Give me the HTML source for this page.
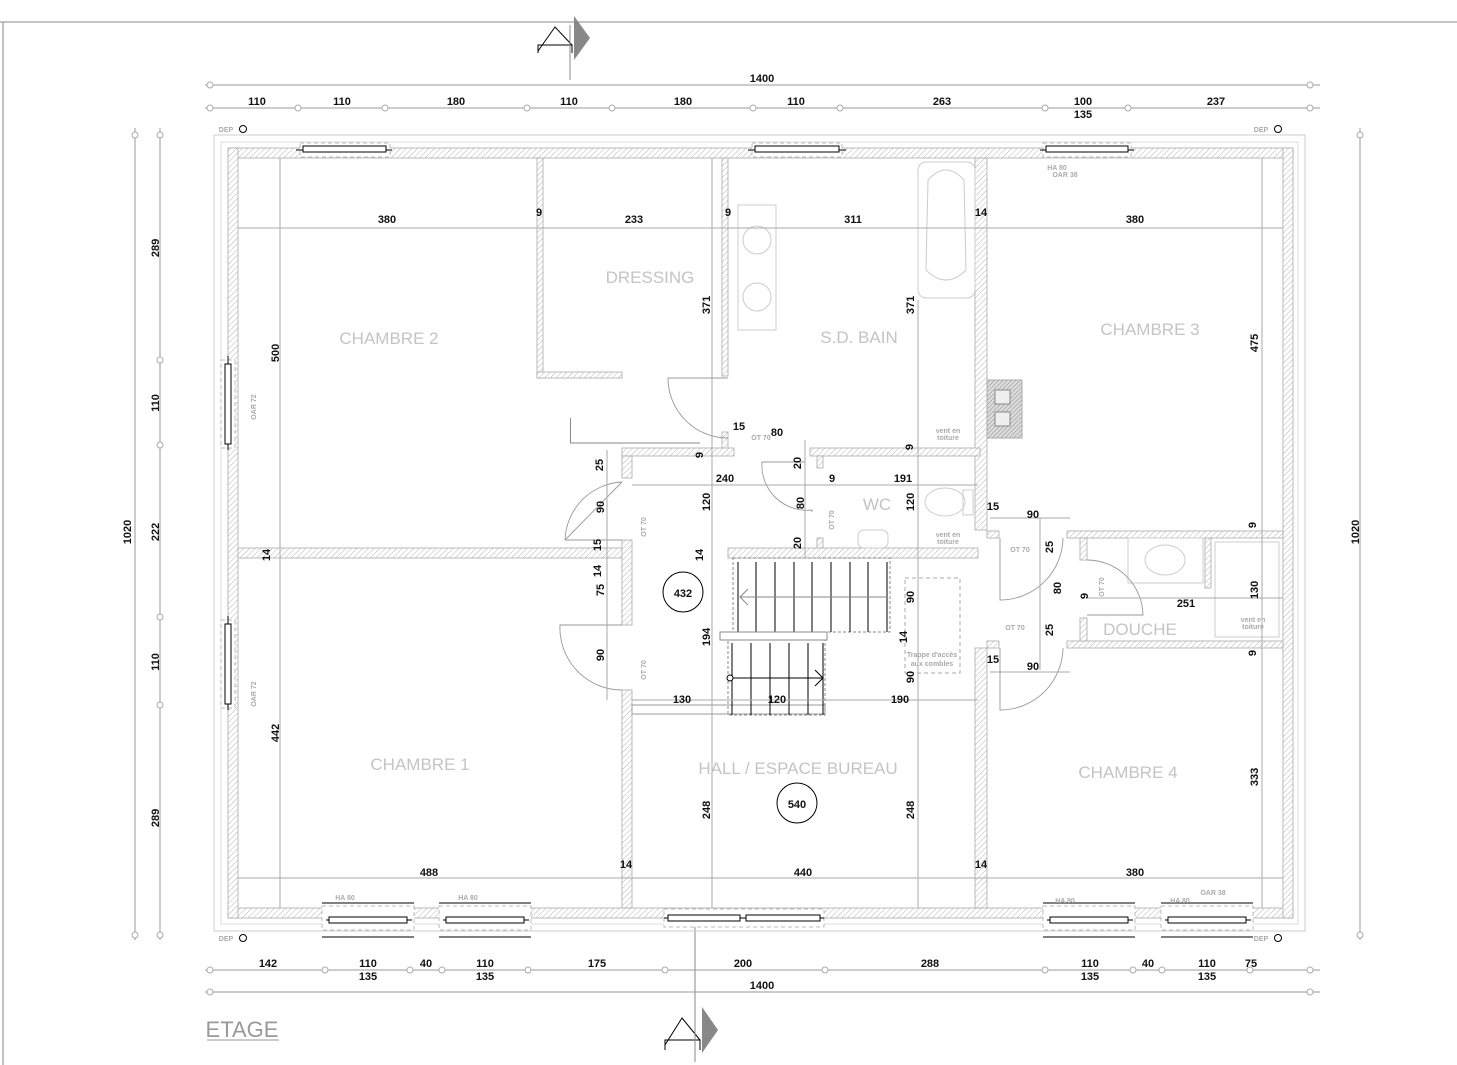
<!DOCTYPE html>
<html><head><meta charset="utf-8"><style>
html,body{margin:0;padding:0;background:#fff;}
svg{display:block;}
.d{font-family:"Liberation Sans",sans-serif;font-size:11px;font-weight:bold;fill:#111;text-anchor:middle;}
.r{font-family:"Liberation Sans",sans-serif;font-size:17px;fill:#c4c4c4;text-anchor:middle;}
.s{font-family:"Liberation Sans",sans-serif;font-size:7px;font-weight:bold;fill:#aaa;text-anchor:middle;}
.w{fill:url(#h);stroke:#aaa;stroke-width:0.8;}
.dl{stroke:#aaa;stroke-width:1;fill:none;}
.g{stroke:#999;stroke-width:0.9;fill:none;}
</style></head><body>
<svg width="1457" height="1065" viewBox="0 0 1457 1065" xmlns="http://www.w3.org/2000/svg">
<defs>
<pattern id="h" width="4" height="4" patternUnits="userSpaceOnUse" patternTransform="rotate(45)">
<rect width="4" height="4" fill="#fff"/><line x1="0" y1="0" x2="0" y2="4" stroke="#b5b5b5" stroke-width="1"/></pattern>
<pattern id="hd" width="3" height="3" patternUnits="userSpaceOnUse" patternTransform="rotate(45)">
<rect width="3" height="3" fill="#ddd"/><line x1="0" y1="0" x2="0" y2="3" stroke="#888" stroke-width="1"/></pattern>
</defs>
<!-- frame -->
<line x1="0" y1="22" x2="1457" y2="22" stroke="#888"/>
<line x1="3" y1="22" x2="3" y2="1065" stroke="#888"/>

<!-- section markers -->
<polyline points="538,51 555,27 572,45" fill="none" stroke="#000"/>
<polyline points="538,53 538,45 572,45 572,53" fill="none" stroke="#000"/>
<line x1="570" y1="25" x2="570" y2="80" stroke="#888"/>
<polygon points="574,16 590,38 574,60" fill="#888"/>
<polyline points="665,1045 682,1018 700,1040" fill="none" stroke="#000"/>
<polyline points="665,1050 665,1040 700,1040 700,1050" fill="none" stroke="#000"/>
<line x1="695" y1="925" x2="695" y2="1062" stroke="#888"/>
<polygon points="702,1007 718,1030 702,1053" fill="#888"/>

<!-- outer light lines -->
<rect x="214" y="135" width="1091" height="796" fill="none" stroke="#ccc"/>
<rect x="221" y="142" width="1077" height="782" fill="none" stroke="#ddd"/>

<!-- exterior walls -->
<rect class="w" x="228" y="148" width="1065" height="10"/>
<rect class="w" x="228" y="908" width="1065" height="10"/>
<rect class="w" x="228" y="148" width="10" height="770"/>
<rect class="w" x="1283" y="148" width="10" height="770"/>
<!-- interior walls -->
<rect class="w" x="537" y="158" width="6" height="220"/>
<rect class="w" x="537" y="372" width="85" height="6"/>
<rect class="w" x="722" y="158" width="6" height="218"/>
<rect class="w" x="722" y="432" width="6" height="22"/>
<rect class="w" x="975" y="158" width="12" height="372"/>
<rect class="w" x="975" y="648" width="12" height="260"/>
<rect class="w" x="622" y="448" width="112" height="8"/>
<rect class="w" x="810" y="448" width="170" height="8"/>
<rect class="w" x="817" y="456" width="6" height="12"/>
<rect class="w" x="817" y="538" width="6" height="12"/>
<rect class="w" x="728" y="548" width="250" height="10"/>
<rect class="w" x="238" y="548" width="387" height="10"/>
<rect class="w" x="622" y="456" width="10" height="22"/>
<rect class="w" x="622" y="540" width="10" height="85"/>
<rect class="w" x="622" y="690" width="10" height="218"/>
<rect style="fill:url(#hd);stroke:#aaa" x="987" y="380" width="35" height="58"/>
<rect x="995" y="390" width="15" height="14" fill="#eee" stroke="#888"/>
<rect x="995" y="412" width="15" height="14" fill="#eee" stroke="#888"/>
<rect class="w" x="987" y="531" width="12" height="7"/>
<rect class="w" x="1067" y="531" width="216" height="7"/>
<rect class="w" x="987" y="641" width="12" height="7"/>
<rect class="w" x="1067" y="641" width="216" height="7"/>
<rect class="w" x="1080" y="538" width="7" height="22"/>
<rect class="w" x="1080" y="618" width="7" height="23"/>
<rect class="w" x="1205" y="538" width="6" height="50"/>
<rect x="632" y="705" width="193" height="9" fill="#fff" stroke="#999"/>
<rect x="570" y="418" width="1" height="25" fill="#888"/>
<line x1="570" y1="443" x2="700" y2="443" stroke="#888"/>

<!-- windows -->
<g stroke="#000" fill="#fff" stroke-width="1">
<rect x="300" y="143" width="90" height="14" stroke="#bbb" stroke-dasharray="4,3"/>
<line x1="296" y1="150" x2="392" y2="150"/><rect x="303" y="146" width="83" height="6"/>
<rect x="752" y="143" width="90" height="14" stroke="#bbb" stroke-dasharray="4,3"/>
<line x1="748" y1="150" x2="846" y2="150"/><rect x="755" y="146" width="84" height="6"/>
<rect x="1043" y="143" width="88" height="14" stroke="#bbb" stroke-dasharray="4,3"/>
<line x1="1040" y1="150" x2="1134" y2="150"/><rect x="1046" y="146" width="82" height="6"/>
<rect x="221" y="360" width="14" height="88" stroke="#bbb" stroke-dasharray="4,3"/>
<line x1="228" y1="356" x2="228" y2="450"/><rect x="225" y="364" width="6" height="80"/>
<rect x="221" y="620" width="14" height="88" stroke="#bbb" stroke-dasharray="4,3"/>
<line x1="228" y1="616" x2="228" y2="710"/><rect x="225" y="624" width="6" height="80"/>
<rect x="322" y="906" width="92" height="24" stroke="#bbb" stroke-dasharray="4,3"/>
<line x1="322" y1="903" x2="414" y2="903"/><line x1="322" y1="937" x2="414" y2="937"/>
<line x1="326" y1="920" x2="412" y2="920"/><rect x="329" y="917" width="78" height="6"/>
<rect x="439" y="906" width="92" height="24" stroke="#bbb" stroke-dasharray="4,3"/>
<line x1="439" y1="903" x2="531" y2="903"/><line x1="439" y1="937" x2="531" y2="937"/>
<line x1="443" y1="920" x2="529" y2="920"/><rect x="446" y="917" width="78" height="6"/>
<rect x="664" y="909" width="160" height="18" stroke="#bbb" stroke-dasharray="4,3"/>
<line x1="664" y1="918" x2="824" y2="918"/><rect x="668" y="915" width="72" height="6"/><rect x="746" y="915" width="74" height="6"/>
<rect x="1043" y="906" width="92" height="24" stroke="#bbb" stroke-dasharray="4,3"/>
<line x1="1043" y1="903" x2="1135" y2="903"/><line x1="1043" y1="937" x2="1135" y2="937"/>
<line x1="1047" y1="920" x2="1133" y2="920"/><rect x="1050" y="917" width="78" height="6"/>
<rect x="1161" y="906" width="92" height="24" stroke="#bbb" stroke-dasharray="4,3"/>
<line x1="1161" y1="903" x2="1253" y2="903"/><line x1="1161" y1="937" x2="1253" y2="937"/>
<line x1="1165" y1="920" x2="1251" y2="920"/><rect x="1168" y="917" width="78" height="6"/>
</g>

<!-- stairs -->
<g stroke="#000" stroke-width="1">
<rect x="733" y="558" width="157" height="74" fill="none" stroke="#888" stroke-dasharray="3,2"/>
<line x1="738" y1="562" x2="738" y2="632"/><line x1="756" y1="562" x2="756" y2="632"/><line x1="775" y1="562" x2="775" y2="632"/>
<line x1="794" y1="562" x2="794" y2="632"/><line x1="812" y1="562" x2="812" y2="632"/><line x1="831" y1="562" x2="831" y2="632"/>
<line x1="850" y1="562" x2="850" y2="632"/><line x1="868" y1="562" x2="868" y2="632"/><line x1="887" y1="562" x2="887" y2="632"/>
<rect x="720" y="632" width="107" height="8" fill="#fff" stroke="#888"/>
<rect x="728" y="640" width="97" height="75" fill="none" stroke="#888" stroke-dasharray="3,2"/>
<line x1="732" y1="643" x2="732" y2="715"/><line x1="751" y1="643" x2="751" y2="715"/><line x1="770" y1="643" x2="770" y2="715"/>
<line x1="789" y1="643" x2="789" y2="715"/><line x1="808" y1="643" x2="808" y2="715"/><line x1="823" y1="643" x2="823" y2="715"/>
<line x1="730" y1="678" x2="822" y2="678"/>
<circle cx="730" cy="678" r="3" fill="#fff"/>
<polyline points="815,670 823,678 815,686" fill="none"/>
<line x1="740" y1="597" x2="888" y2="597" stroke="#888"/>
<polyline points="748,589 740,597 748,605" fill="none" stroke="#888"/>
</g>
<rect x="905" y="578" width="55" height="95" fill="none" stroke="#aaa" stroke-dasharray="4,3"/>
<text class="s" x="932" y="657" font-size="8">Trappe d'accès</text>
<text class="s" x="932" y="666" font-size="8">aux combles</text>

<!-- fixtures -->
<g stroke="#ccc" fill="none">
<rect x="918" y="162" width="57" height="136" rx="8"/>
<path d="M928,180 Q946,160 964,180 L966,270 Q946,290 926,270 Z"/>
<rect x="738" y="205" width="38" height="125"/>
<circle cx="757" cy="240" r="14"/><circle cx="757" cy="297" r="14"/>
<ellipse cx="945" cy="502" rx="20" ry="14"/><rect x="963" y="490" width="10" height="25"/>
<rect x="858" y="530" width="30" height="18" rx="6"/>
<rect x="1128" y="538" width="75" height="45"/><ellipse cx="1165" cy="560" rx="20" ry="15"/>
<rect x="1215" y="542" width="64" height="95"/>
</g>

<!-- doors -->
<g class="g">
<path d="M728,378 L668,378 A60,60 0 0,0 728,438"/>
<path d="M805,462 L762,462 A45,45 0 0,0 812,510 L812,512"/>
<path d="M622,482 L565,540 M622,482 A60,60 0 0,0 565,540 L622,540"/>
<path d="M622,625 L560,625 A62,62 0 0,0 622,690"/>
<path d="M1000,538 L1000,600 A63,63 0 0,0 1063,538"/>
<path d="M1087,560 A56,56 0 0,1 1143,615 L1087,615"/>
<path d="M1000,648 L1000,710 A63,63 0 0,0 1063,648"/>
</g>

<!-- interior dimension lines -->
<g class="dl">
<line x1="238" y1="228" x2="1283" y2="228"/>
<line x1="238" y1="878" x2="1283" y2="878"/>
<line x1="632" y1="485" x2="978" y2="485"/>
<line x1="632" y1="700" x2="978" y2="700"/>
<line x1="280" y1="158" x2="280" y2="908"/>
<line x1="712" y1="158" x2="712" y2="908"/>
<line x1="918" y1="300" x2="918" y2="908"/>
<line x1="1262" y1="158" x2="1262" y2="908"/>
<line x1="607" y1="450" x2="607" y2="700"/>
<line x1="805" y1="440" x2="805" y2="558"/>
<line x1="1040" y1="518" x2="1040" y2="670"/>
<line x1="1087" y1="598" x2="1283" y2="598"/>
<line x1="990" y1="518" x2="1070" y2="518"/>
<line x1="990" y1="672" x2="1070" y2="672"/>
</g>

<!-- exterior dimension lines -->
<g stroke="#999" stroke-width="1" fill="none">
<line x1="205" y1="85" x2="1320" y2="85"/>
<line x1="205" y1="108" x2="1320" y2="108"/>
<line x1="205" y1="970" x2="1320" y2="970"/>
<line x1="205" y1="992" x2="1320" y2="992"/>
<line x1="135" y1="128" x2="135" y2="940"/>
<line x1="160" y1="128" x2="160" y2="940"/>
<line x1="1360" y1="128" x2="1360" y2="940"/>
</g>
<g stroke="#aaa" fill="#fff">
<circle cx="210" cy="108" r="3"/><circle cx="298" cy="108" r="3"/><circle cx="385" cy="108" r="3"/><circle cx="527" cy="108" r="3"/>
<circle cx="612" cy="108" r="3"/><circle cx="753" cy="108" r="3"/><circle cx="840" cy="108" r="3"/><circle cx="1045" cy="108" r="3"/>
<circle cx="1128" cy="108" r="3"/><circle cx="1310" cy="108" r="3"/><circle cx="210" cy="85" r="3"/><circle cx="1310" cy="85" r="3"/>
<circle cx="210" cy="970" r="3"/><circle cx="325" cy="970" r="3"/><circle cx="410" cy="970" r="3"/><circle cx="442" cy="970" r="3"/>
<circle cx="528" cy="970" r="3"/><circle cx="665" cy="970" r="3"/><circle cx="825" cy="970" r="3"/><circle cx="1045" cy="970" r="3"/>
<circle cx="1133" cy="970" r="3"/><circle cx="1162" cy="970" r="3"/><circle cx="1250" cy="970" r="3"/><circle cx="1310" cy="970" r="3"/>
<circle cx="210" cy="992" r="3"/><circle cx="1310" cy="992" r="3"/>
<circle cx="160" cy="135" r="3"/><circle cx="160" cy="360" r="3"/><circle cx="160" cy="445" r="3"/><circle cx="160" cy="617" r="3"/>
<circle cx="160" cy="705" r="3"/><circle cx="160" cy="935" r="3"/><circle cx="135" cy="135" r="3"/><circle cx="135" cy="935" r="3"/>
<circle cx="1360" cy="135" r="3"/><circle cx="1360" cy="935" r="3"/>
</g>

<!-- DEP -->
<g>
<text class="s" x="226" y="132" font-size="8">DEP</text><circle cx="243" cy="129" r="3.5" fill="none" stroke="#000"/>
<text class="s" x="1261" y="132" font-size="8">DEP</text><circle cx="1278" cy="129" r="3.5" fill="none" stroke="#000"/>
<text class="s" x="226" y="941" font-size="8">DEP</text><circle cx="243" cy="938" r="3.5" fill="none" stroke="#000"/>
<text class="s" x="1261" y="941" font-size="8">DEP</text><circle cx="1278" cy="938" r="3.5" fill="none" stroke="#000"/>
</g>

<!-- small labels -->
<text class="s" x="1057" y="170">HA 80</text><text class="s" x="1065" y="177">OAR 38</text>
<text class="s" x="345" y="900">HA 80</text><text class="s" x="468" y="900">HA 80</text>
<text class="s" x="1065" y="903">HA 80</text><text class="s" x="1180" y="903">HA 80</text><text class="s" x="1213" y="895">OAR 38</text>
<text class="s" x="761" y="440">OT 70</text>
<text class="s" x="1020" y="552">OT 70</text><text class="s" x="1015" y="630">OT 70</text>
<text class="s" x="948" y="433">vent en</text><text class="s" x="948" y="440">toiture</text>
<text class="s" x="948" y="537">vent en</text><text class="s" x="948" y="544">toiture</text>
<text class="s" x="1253" y="622">vent en</text><text class="s" x="1253" y="629">toiture</text>
<g class="s">
<text transform="translate(256,407) rotate(-90)">OAR 72</text>
<text transform="translate(256,694) rotate(-90)">OAR 72</text>
<text transform="translate(646,527) rotate(-90)">OT 70</text>
<text transform="translate(646,670) rotate(-90)">OT 70</text>
<text transform="translate(834,520) rotate(-90)">OT 70</text>
<text transform="translate(1104,587) rotate(-90)">OT 70</text>
</g>

<!-- rooms -->
<text class="r" x="389" y="344">CHAMBRE 2</text>
<text class="r" x="650" y="283">DRESSING</text>
<text class="r" x="859" y="343">S.D. BAIN</text>
<text class="r" x="1150" y="335">CHAMBRE 3</text>
<text class="r" x="877" y="510">WC</text>
<text class="r" x="1140" y="635">DOUCHE</text>
<text class="r" x="420" y="770">CHAMBRE 1</text>
<text class="r" x="798" y="774">HALL  /  ESPACE BUREAU</text>
<text class="r" x="1128" y="778">CHAMBRE 4</text>
<text class="r" x="242" y="1037" style="text-anchor:middle;font-size:22px;fill:#999">ETAGE</text>
<line x1="207" y1="1040" x2="279" y2="1040" stroke="#999"/>

<circle cx="683" cy="592" r="20" fill="none" stroke="#000"/>
<text class="d" x="683" y="597" font-size="12">432</text>
<circle cx="797" cy="803" r="20" fill="none" stroke="#000"/>
<text class="d" x="797" y="808" font-size="12">540</text>

<!-- dimension texts -->
<g class="d">
<text x="762" y="82">1400</text>
<text x="257" y="105">110</text><text x="342" y="105">110</text><text x="456" y="105">180</text><text x="569" y="105">110</text>
<text x="683" y="105">180</text><text x="796" y="105">110</text><text x="942" y="105">263</text><text x="1083" y="105">100</text>
<text x="1083" y="118">135</text><text x="1216" y="105">237</text>
<text x="387" y="223">380</text><text x="539" y="216">9</text><text x="634" y="223">233</text><text x="728" y="216">9</text>
<text x="853" y="223">311</text><text x="981" y="216">14</text><text x="1135" y="223">380</text>
<text x="429" y="876">488</text><text x="626" y="868">14</text><text x="803" y="876">440</text><text x="981" y="868">14</text><text x="1135" y="876">380</text>
<text x="268" y="967">142</text><text x="368" y="967">110</text><text x="368" y="980">135</text><text x="426" y="967">40</text>
<text x="485" y="967">110</text><text x="485" y="980">135</text><text x="597" y="967">175</text><text x="743" y="967">200</text>
<text x="930" y="967">288</text><text x="1090" y="967">110</text><text x="1090" y="980">135</text><text x="1148" y="967">40</text>
<text x="1207" y="967">110</text><text x="1207" y="980">135</text><text x="1251" y="967">75</text>
<text x="762" y="989">1400</text>
<text x="725" y="482">240</text><text x="832" y="482">9</text><text x="903" y="482">191</text>
<text x="682" y="703">130</text><text x="777" y="703">120</text><text x="900" y="703">190</text>
<text x="739" y="430">15</text><text x="777" y="436">80</text><text x="1033" y="518">90</text><text x="1033" y="670">90</text>
<text x="993" y="510">15</text><text x="993" y="663">15</text><text x="1186" y="607">251</text>
</g>
<g class="d">
<text transform="translate(159,248) rotate(-90)">289</text>
<text transform="translate(159,403) rotate(-90)">110</text>
<text transform="translate(159,532) rotate(-90)">222</text>
<text transform="translate(159,662) rotate(-90)">110</text>
<text transform="translate(159,818) rotate(-90)">289</text>
<text transform="translate(131,532) rotate(-90)">1020</text>
<text transform="translate(1359,532) rotate(-90)">1020</text>
<text transform="translate(279,353) rotate(-90)">500</text>
<text transform="translate(710,305) rotate(-90)">371</text>
<text transform="translate(914,305) rotate(-90)">371</text>
<text transform="translate(1258,343) rotate(-90)">475</text>
<text transform="translate(279,733) rotate(-90)">442</text>
<text transform="translate(710,810) rotate(-90)">248</text>
<text transform="translate(914,810) rotate(-90)">248</text>
<text transform="translate(1258,777) rotate(-90)">333</text>
<text transform="translate(270,555) rotate(-90)">14</text>
<text transform="translate(603,465) rotate(-90)">25</text>
<text transform="translate(604,507) rotate(-90)">90</text>
<text transform="translate(601,545) rotate(-90)">15</text>
<text transform="translate(601,571) rotate(-90)">14</text>
<text transform="translate(604,590) rotate(-90)">75</text>
<text transform="translate(604,655) rotate(-90)">90</text>
<text transform="translate(710,502) rotate(-90)">120</text>
<text transform="translate(914,502) rotate(-90)">120</text>
<text transform="translate(703,555) rotate(-90)">14</text>
<text transform="translate(710,637) rotate(-90)">194</text>
<text transform="translate(801,463) rotate(-90)">20</text>
<text transform="translate(801,543) rotate(-90)">20</text>
<text transform="translate(804,503) rotate(-90)">80</text>
<text transform="translate(703,455) rotate(-90)">9</text>
<text transform="translate(913,447) rotate(-90)">9</text>
<text transform="translate(914,597) rotate(-90)">90</text>
<text transform="translate(907,637) rotate(-90)">14</text>
<text transform="translate(914,677) rotate(-90)">90</text>
<text transform="translate(1053,547) rotate(-90)">25</text>
<text transform="translate(1061,588) rotate(-90)">80</text>
<text transform="translate(1088,596) rotate(-90)">9</text>
<text transform="translate(1053,630) rotate(-90)">25</text>
<text transform="translate(1258,590) rotate(-90)">130</text>
<text transform="translate(1256,525) rotate(-90)">9</text>
<text transform="translate(1256,653) rotate(-90)">9</text>
</g>
</svg>
</body></html>
